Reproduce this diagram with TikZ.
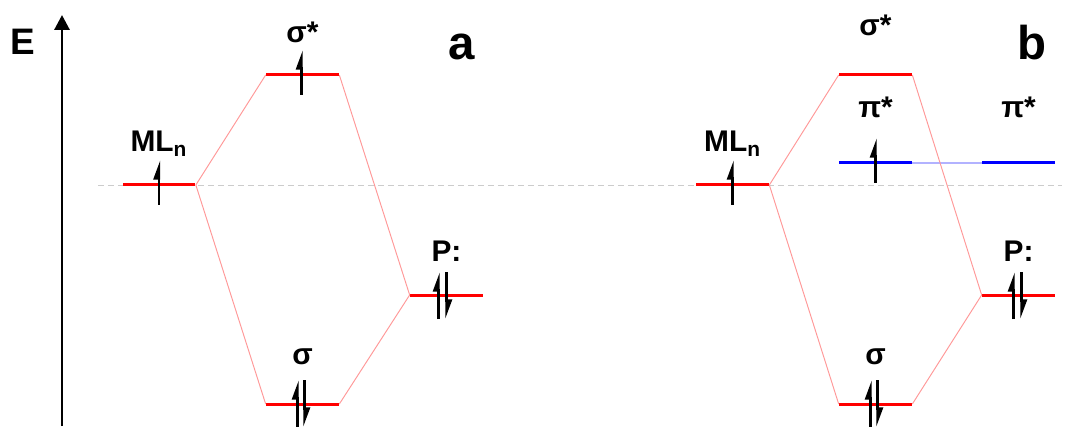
\documentclass[tikz,border=0pt]{standalone}
\usepackage{fontspec}
\setmainfont{Liberation Sans}
\usepackage{tikz}
\usetikzlibrary{arrows.meta,positioning,calc}

\begin{document}
\begin{tikzpicture}[x=0.02cm, y=0.02cm,
    orb/.style={rectangle, fill=red, inner sep=0pt, minimum width=1.46cm, minimum height=0.06cm},
    piorb/.style={orb, fill=blue},
    link/.style={red!40, line width=0.55pt},
    spin/.style={line width=1.4pt, -{Triangle[left, length=0.32cm, width=0.22cm]}},
    lbl/.style={font=\fontsize{17}{19}\selectfont\bfseries, inner sep=0pt, anchor=base},
    panel/.style={font=\fontsize{27}{30}\selectfont\bfseries, inner sep=0pt, anchor=base}]
    \useasboundingbox (0,0) rectangle (1067,426);

    % energy axis
    \coordinate (axbot) at (62,0);
    \coordinate (axtop) at (62,411);
    \draw[line width=1.7pt, -{Triangle[length=0.3cm, width=0.3cm]}] (axbot) -- (axtop);
    \node[font=\fontsize{21}{23}\selectfont\bfseries, inner sep=0pt] (elbl) at (23,384) {E};

    % reference line
    \coordinate (dl) at (98,241);
    \coordinate (dr) at (1062,241);
    \draw[gray!40, line width=0.5pt, dash pattern=on 0.12cm off 0.08cm] (dl) -- (dr);

    % panel a
    \node[orb] (mla) at (159,241) {};
    \node[orb] (ssa) at (302.5,351) {};
    \node[orb] (sa) at (302.5,22) {};
    \node[orb] (pa) at (446.5,131) {};

    \draw[link] (mla.east) -- (ssa.west);
    \draw[link] (mla.east) -- (sa.west);
    \draw[link] (ssa.east) -- (pa.west);
    \draw[link] (sa.east) -- (pa.west);

    \node[above=0.63cm of mla, lbl] (mlalbl) {ML\textsubscript{n}};
    \node[above=0.61cm of ssa, lbl] (ssalbl) {σ*};
    \node[above=0.75cm of sa, lbl] (salbl) {σ};
    \node[above=0.63cm of pa, lbl] (palbl) {P:};
    \node[panel] (alabel) at (462,366) {a};

    \draw[spin] ($(mla)+(0,-20)$) -- ++(0,45);
    \draw[spin] ($(ssa)+(-1,-20)$) -- ++(0,45);
    \draw[spin] ($(sa)+(-5,-23)$) -- ++(0,47);
    \draw[spin] ($(sa)+(2,24)$) -- ++(0,-47);
    \draw[spin] ($(pa)+(-8,-24)$) -- ++(0,47);
    \draw[spin] ($(pa)+(0,23)$) -- ++(0,-47);

    % panel b
    \node[orb] (mlb) at (732.5,241) {};
    \node[orb] (ssb) at (875.5,351) {};
    \node[orb] (sb) at (875.5,22) {};
    \node[orb] (pb) at (1018.5,131) {};
    \node[piorb] (pia) at (875.5,263) {};
    \node[piorb] (pib) at (1018.5,263) {};

    \draw[blue!30, line width=0.6pt] (pia.east) -- (pib.west);
    \draw[link] (mlb.east) -- (ssb.west);
    \draw[link] (mlb.east) -- (sb.west);
    \draw[link] (ssb.east) -- (pb.west);
    \draw[link] (sb.east) -- (pb.west);

    \node[above=0.63cm of mlb, lbl] (mlblbl) {ML\textsubscript{n}};
    \node[above=0.75cm of ssb, lbl] (ssblbl) {σ*};
    \node[above=0.87cm of pia, lbl] (pialbl) {π*};
    \node[above=0.87cm of pib, lbl] (piblbl) {π*};
    \node[above=0.75cm of sb, lbl] (sblbl) {σ};
    \node[above=0.63cm of pb, lbl] (pblbl) {P:};
    \node[panel] (blabel) at (1032,366) {b};

    \draw[spin] ($(mlb)+(0,-20)$) -- ++(0,45);
    \draw[spin] ($(pia)+(0,-20)$) -- ++(0,45);
    \draw[spin] ($(sb)+(-5,-23)$) -- ++(0,47);
    \draw[spin] ($(sb)+(2,24)$) -- ++(0,-47);
    \draw[spin] ($(pb)+(-5,-24)$) -- ++(0,47);
    \draw[spin] ($(pb)+(3,23)$) -- ++(0,-47);
\end{tikzpicture}
\end{document}
